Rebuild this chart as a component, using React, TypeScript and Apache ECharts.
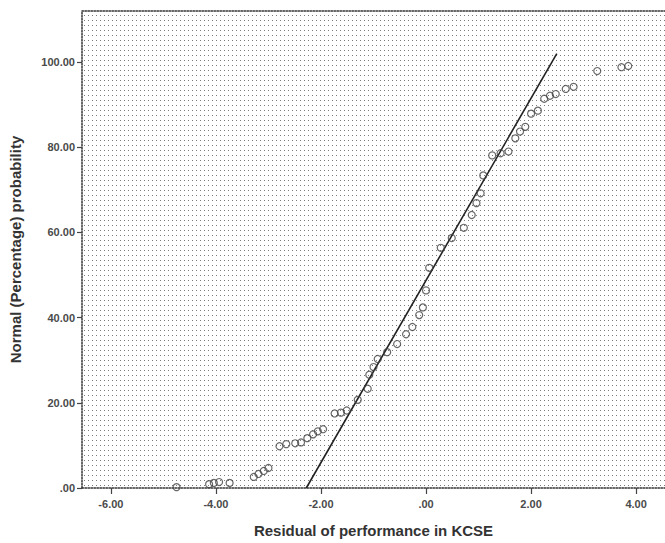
import React, { useEffect, useRef } from "react";
import * as echarts from "echarts";

// Residuals (x) and normal percentage probability (y)
const residuals = [
  -4.75, -4.13, -4.04, -3.94, -3.74, -3.28, -3.19, -3.09, -3.0, -2.79, -2.66, -2.49, -2.38, -2.26,
  -2.15, -2.06, -1.96, -1.74, -1.62, -1.51, -1.3, -1.11, -1.08, -1.0, -0.92, -0.74, -0.55, -0.38,
  -0.26, -0.13, -0.06, 0.0, 0.06, 0.28, 0.49, 0.72, 0.87, 0.96, 1.04, 1.09, 1.26, 1.42, 1.57, 1.7,
  1.79, 1.89, 2.0, 2.13, 2.25, 2.36, 2.47, 2.66, 2.81, 3.26, 3.72, 3.85,
];
const probabilities = [
  0.2, 0.9, 1.2, 1.4, 1.2, 2.6, 3.3, 4.0, 4.7, 9.8, 10.3, 10.5, 10.7, 11.7, 12.6, 13.3, 13.8, 17.5,
  17.7, 18.2, 20.7, 23.3, 26.6, 28.4, 30.3, 31.9, 33.8, 36.1, 37.8, 40.6, 42.4, 46.4, 51.7, 56.4,
  58.7, 61.1, 64.1, 66.9, 69.2, 73.4, 78.1, 78.6, 79.0, 82.1, 83.7, 84.8, 87.9, 88.6, 91.4, 92.1,
  92.5, 93.7, 94.2, 97.9, 98.8, 99.1,
];
// Reference (expected normal) line end points
const lineX = [-2.28, 2.49];
const lineY = [0, 102];

const xTicks = [-6, -4, -2, 0, 2, 4];
const yTicks = [0, 20, 40, 60, 80, 100];

const fmt = (v: number) => {
  const s = Math.abs(v).toFixed(2);
  const t = s.startsWith("0") ? s.slice(1) : s;
  return (v < 0 ? "-" : "") + t;
};

function makePattern(): string {
  const c = document.createElement("canvas");
  c.width = 4;
  c.height = 5;
  const ctx = c.getContext("2d");
  if (ctx) {
    ctx.fillStyle = "#ffffff";
    ctx.fillRect(0, 0, 4, 5);
    ctx.fillStyle = "#7a7a7a";
    ctx.fillRect(0, 0, 1, 1);
  }
  return c.toDataURL();
}

export default function App() {
  const ref = useRef<HTMLDivElement>(null);
  useEffect(() => {
    if (!ref.current) return;
    const chart = echarts.init(ref.current, null, { renderer: "svg" });
    const pattern = makePattern();
    const labelStyle = {
      fontFamily: "Liberation Sans, Arial, sans-serif",
      fontSize: 11,
      fontWeight: "bold" as const,
      color: "#4a4a4a",
    };
    const nameStyle = {
      fontFamily: "Liberation Sans, Arial, sans-serif",
      fontSize: 15,
      fontWeight: "bold" as const,
      color: "#333",
    };
    const axisLineStyle = { color: "#333", width: 1.5, type: "dotted" as const };
    chart.setOption({
      animation: false,
      backgroundColor: "#fff",
      grid: {
        left: 79,
        top: 11,
        right: -1,
        bottom: 51,
        show: true,
        borderWidth: 0,
        backgroundColor: { image: pattern, repeat: "repeat" },
      },
      xAxis: [
        {
          type: "value",
          min: -6.55,
          max: 4.55,
          name: "Residual of performance in KCSE",
          nameLocation: "middle",
          nameGap: 35,
          nameTextStyle: nameStyle,
          axisLine: { show: true, onZero: false, lineStyle: axisLineStyle },
          axisTick: {
            show: true,
            customValues: xTicks,
            length: 6,
            lineStyle: { color: "#444", width: 1.2 },
          },
          axisLabel: { ...labelStyle, customValues: xTicks, formatter: fmt, margin: 10 },
          splitLine: { show: false },
        },
        {
          type: "value",
          position: "top",
          min: -6.55,
          max: 4.55,
          axisLine: { show: true, onZero: false, lineStyle: axisLineStyle },
          axisTick: { show: false },
          axisLabel: { show: false },
          splitLine: { show: false },
        },
      ],
      yAxis: {
        type: "value",
        min: 0,
        max: 112,
        name: "Normal (Percentage) probability",
        nameLocation: "middle",
        nameGap: 59,
        nameTextStyle: nameStyle,
        axisLine: { show: true, onZero: false, lineStyle: axisLineStyle },
        axisTick: {
          show: true,
          customValues: yTicks,
          length: 5,
          lineStyle: { color: "#444", width: 1.2 },
        },
        axisLabel: { ...labelStyle, customValues: yTicks, formatter: fmt, margin: 7 },
        splitLine: { show: false },
      },
      series: [
        {
          type: "line",
          data: lineX.map((x, i) => [x, lineY[i]]),
          showSymbol: false,
          symbol: "none",
          lineStyle: { color: "#222", width: 1.6 },
          silent: true,
          z: 3,
        },
        {
          type: "scatter",
          data: residuals.map((x, i) => [x, probabilities[i]]),
          symbol: "circle",
          symbolSize: 7,
          itemStyle: { color: "rgba(255,255,255,0)", borderColor: "#444", borderWidth: 1.2 },
          z: 4,
        },
      ],
    });
    return () => chart.dispose();
  }, []);
  return (
    <div
      ref={ref}
      style={{ position: "fixed", left: 0, top: 0, width: 665, height: 543, background: "#fff" }}
    />
  );
}
